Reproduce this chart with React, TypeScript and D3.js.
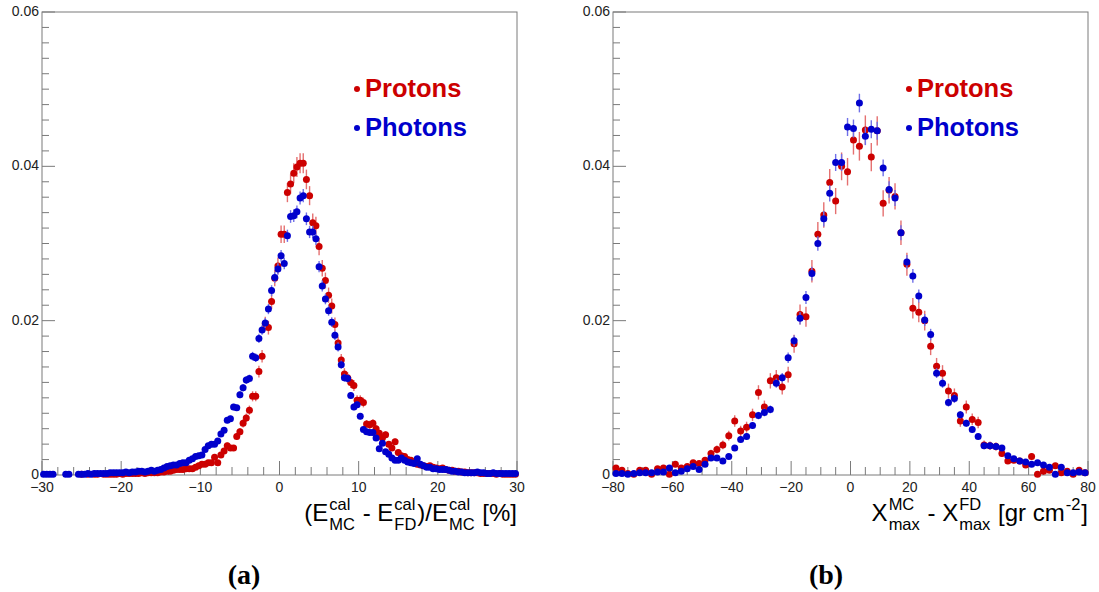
import React, { useEffect, useRef } from "react";
import * as d3 from "d3";

const W = 1099;
const H = 592;

// ---------- Panel (a): (E_MC - E_FD)/E_MC [%], 150 bins of 0.4 from -30 to 30 ----------
const binStartA = -29.8;
const binWidthA = 0.4;
const protonsA: (number | null)[] = [
  null, null, null, null, null, null, null, null, null, null,
  null, null, 0.0001, null, 0.0001, null, 0.0001, 0.0001, null, 0.0001,
  0.0001, 0.0001, 0.0001, 0.0001, 0.0002, 0.0001, 0.0002, 0.0002, 0.0002, 0.0002,
  0.0002, 0.0003, 0.0002, 0.0003, 0.0003, 0.0003, 0.0003, 0.0004, 0.0004, 0.0005,
  0.0005, 0.0006, 0.0007, 0.0007, 0.0007, 0.0008, 0.0008, 0.0008, 0.0010, 0.0012,
  0.0014, 0.0014, 0.0016, 0.0016, 0.0023, 0.0016, 0.0026, 0.0031, 0.0038, 0.0035,
  0.0035, 0.0050, 0.0056, 0.0067, 0.0074, 0.0084, 0.0102, 0.0102, 0.0134, 0.0154,
  0.0196, 0.0191, 0.0225, 0.0255, 0.0271, 0.0312, 0.0312, 0.0366, 0.0377, 0.0391,
  0.0399, 0.0404, 0.0404, 0.0383, 0.0362, 0.0327, 0.0323, 0.0296, 0.0268, 0.0252,
  0.0233, 0.0219, 0.0195, 0.0171, 0.0149, 0.0131, 0.0126, 0.0120, 0.0116, 0.0097,
  0.0097, 0.0094, 0.0066, 0.0065, 0.0067, 0.0060, 0.0054, 0.0048, 0.0052, 0.0040,
  0.0035, 0.0043, 0.0029, 0.0025, 0.0024, 0.0020, 0.0019, 0.0016, 0.0014, 0.0013,
  0.0012, 0.0011, 0.0012, 0.0010, 0.0009, 0.0008, 0.0009, 0.0007, 0.0006, 0.0006,
  0.0005, 0.0005, 0.0004, 0.0004, 0.0003, 0.0003, 0.0003, 0.0003, 0.0002, 0.0002,
  0.0002, 0.0002, 0.0002, 0.0001, 0.0002, 0.0001, 0.0001, 0.0001, 0.0001, 0.0001,
];
const photonsA: (number | null)[] = [
  0.0001, 0.0001, 0.0001, 0.0001, null, null, null, 0.0001, 0.0001, null,
  null, 0.0001, 0.0001, 0.0001, 0.0002, 0.0001, 0.0002, 0.0002, 0.0002, 0.0002,
  0.0002, 0.0003, 0.0003, 0.0003, 0.0003, 0.0003, 0.0004, 0.0003, 0.0004, 0.0004,
  0.0005, 0.0005, 0.0004, 0.0005, 0.0006, 0.0005, 0.0006, 0.0007, 0.0009, 0.0011,
  0.0012, 0.0013, 0.0013, 0.0015, 0.0016, 0.0016, 0.0019, 0.0021, 0.0024, 0.0025,
  0.0026, 0.0033, 0.0038, 0.0040, 0.0040, 0.0044, 0.0053, 0.0058, 0.0071, 0.0073,
  0.0088, 0.0087, 0.0104, 0.0113, 0.0123, 0.0125, 0.0154, 0.0152, 0.0177, 0.0188,
  0.0197, 0.0215, 0.0239, 0.0256, 0.0267, 0.0284, 0.0274, 0.0310, 0.0335, 0.0336,
  0.0341, 0.0359, 0.0362, 0.0332, 0.0315, 0.0315, 0.0306, 0.0270, 0.0245, 0.0228,
  0.0213, 0.0198, 0.0181, 0.0166, 0.0143, 0.0126, 0.0125, 0.0103, 0.0088, 0.0091,
  0.0076, 0.0059, 0.0056, 0.0055, 0.0055, 0.0048, 0.0034, 0.0041, 0.0030, 0.0027,
  0.0022, 0.0019, 0.0019, 0.0022, 0.0019, 0.0017, 0.0016, 0.0015, 0.0021, 0.0014,
  0.0012, 0.0010, 0.0010, 0.0008, 0.0008, 0.0007, 0.0007, 0.0007, 0.0006, 0.0005,
  0.0005, 0.0004, 0.0004, 0.0003, 0.0003, 0.0003, 0.0003, 0.0004, 0.0003, 0.0003,
  0.0002, 0.0002, 0.0003, 0.0002, 0.0002, 0.0002, 0.0002, 0.0002, 0.0002, 0.0002,
];

// ---------- Panel (b): Xmax_MC - Xmax_FD [g cm^-2], 80 bins of 2 from -80 to 80 ----------
const binStartB = -79;
const binWidthB = 2;
const protonsB: (number | null)[] = [
  0.0009, 0.0006, 0.0002, 0.0001, 0.0006, 0.0006, 0.0001, 0.0008, 0.0009, 0.0001,
  0.0014, 0.0009, 0.0011, 0.0016, 0.0015, 0.0019, 0.0028, 0.0033, 0.0039, 0.0051,
  0.0070, 0.0057, 0.0062, 0.0078, 0.0107, 0.0088, 0.0122, 0.0126, 0.0114, 0.0130,
  0.0170, 0.0208, 0.0205, 0.0264, 0.0312, 0.0337, 0.0379, 0.0355, 0.0400, 0.0393,
  0.0434, 0.0426, 0.0447, 0.0412, 0.0446, 0.0352, 0.0369, 0.0361, 0.0314, 0.0273,
  0.0216, 0.0211, 0.0200, 0.0167, 0.0141, 0.0132, 0.0109, 0.0103, 0.0070, 0.0088,
  0.0072, 0.0068, 0.0039, 0.0038, 0.0037, 0.0028, 0.0018, 0.0019, 0.0018, 0.0013,
  0.0024, 0.0001, 0.0005, 0.0006, 0.0012, 0.0003, 0.0005, 0.0001, 0.0006, 0.0003,
];
const photonsB: (number | null)[] = [
  0.0002, 0.0002, 0.0001, 0.0002, 0.0003, 0.0003, 0.0003, 0.0004, 0.0004, 0.0009,
  0.0003, 0.0005, 0.0008, 0.0011, 0.0007, 0.0014, 0.0022, 0.0022, 0.0018, 0.0024,
  0.0035, 0.0046, 0.0050, 0.0064, 0.0077, 0.0081, 0.0085, 0.0119, 0.0126, 0.0152,
  0.0174, 0.0203, 0.0230, 0.0261, 0.0300, 0.0332, 0.0365, 0.0405, 0.0405, 0.0451,
  0.0449, 0.0482, 0.0439, 0.0448, 0.0446, 0.0398, 0.0370, 0.0359, 0.0314, 0.0276,
  0.0258, 0.0232, 0.0201, 0.0182, 0.0132, 0.0119, 0.0094, 0.0099, 0.0078, 0.0067,
  0.0059, 0.0050, 0.0038, 0.0038, 0.0037, 0.0035, 0.0025, 0.0021, 0.0018, 0.0017,
  0.0014, 0.0016, 0.0013, 0.0010, 0.0001, 0.0010, 0.0003, 0.0003, 0.0004, 0.0003,
];

// statistical-error scale (sigma = k * sqrt(content)) per series
const errScaleProtonsA = 0.0065;
const errScalePhotonsA = 0.0045;
const errScaleProtonsB = 0.009;
const errScalePhotonsB = 0.0055;

const xTicksA = [-30, -20, -10, 0, 10, 20, 30];
const xTicksB = [-80, -60, -40, -20, 0, 20, 40, 60, 80];
const yTicks = [0, 0.02, 0.04, 0.06];
const yTickLabels = ["0", "0.02", "0.04", "0.06"];
const legendLabels = ["Protons", "Photons"];
const captions = ["(a)", "(b)"];

const RED = "#cc0000";
const BLUE = "#0000cc";
const RED_ERR = "#e57070";
const BLUE_ERR = "#7070e8";
const AXIS = "#7a7a7a";
const SANS = "'Liberation Sans', Arial, Helvetica, sans-serif";

type Piece = { text?: string; sup?: string; sub?: string };

function fmt(v: number) {
  return v < 0 ? "\u2212" + Math.abs(v) : String(v);
}

function drawTitle(svg: any, pieces: Piece[], rightX: number, baseline: number) {
  const g = svg.append("g");
  let cur = 0;
  const big = 24;
  const small = 16.5;
  for (const p of pieces) {
    if (p.text !== undefined) {
      const t = g
        .append("text")
        .attr("x", cur)
        .attr("y", 0)
        .attr("font-family", SANS)
        .attr("font-size", big)
        .attr("fill", "#000")
        .style("white-space", "pre")
        .text(p.text);
      cur += (t.node() as SVGTextElement).getComputedTextLength();
    } else {
      let w = 0;
      if (p.sup) {
        const t = g
          .append("text")
          .attr("x", cur + 1)
          .attr("y", -11)
          .attr("font-family", SANS)
          .attr("font-size", small)
          .attr("fill", "#000")
          .text(p.sup);
        w = Math.max(w, (t.node() as SVGTextElement).getComputedTextLength());
      }
      if (p.sub) {
        const t = g
          .append("text")
          .attr("x", cur + 1)
          .attr("y", 9)
          .attr("font-family", SANS)
          .attr("font-size", small)
          .attr("fill", "#000")
          .text(p.sub);
        w = Math.max(w, (t.node() as SVGTextElement).getComputedTextLength());
      }
      cur += w + 2;
    }
  }
  g.attr("transform", `translate(${rightX - cur},${baseline})`);
}

type PanelCfg = {
  left: number;
  right: number;
  xDomain: [number, number];
  xTicks: number[];
  xMinorStep: number;
  binStart: number;
  binWidth: number;
  series: { values: (number | null)[]; color: string; errColor: string; errScale: number }[];
  legendX: number;
  title: Piece[];
  caption: string;
  captionX: number;
};

const TOP = 12;
const BOTTOM = 475;

function drawPanel(svg: any, cfg: PanelCfg) {
  const x = d3.scaleLinear().domain(cfg.xDomain).range([cfg.left, cfg.right]);
  const y = d3.scaleLinear().domain([0, 0.06]).range([BOTTOM, TOP]);
  const g = svg.append("g");

  // frame
  g.append("rect")
    .attr("x", cfg.left)
    .attr("y", TOP)
    .attr("width", cfg.right - cfg.left)
    .attr("height", BOTTOM - TOP)
    .attr("fill", "none")
    .attr("stroke", AXIS)
    .attr("stroke-width", 1);

  // y ticks
  const yMinor = d3.range(0, 31).map((i) => i * 0.002);
  g.selectAll(".ytk")
    .data(yMinor)
    .enter()
    .append("line")
    .attr("x1", cfg.left)
    .attr("x2", (_d: number, i: number) => cfg.left + (i % 10 === 0 ? 13 : 7))
    .attr("y1", (d: number) => y(d))
    .attr("y2", (d: number) => y(d))
    .attr("stroke", AXIS)
    .attr("stroke-width", 1);
  g.selectAll(".ylab")
    .data(yTicks)
    .enter()
    .append("text")
    .attr("x", cfg.left - 3)
    .attr("y", (d: number) => y(d) + 4)
    .attr("text-anchor", "end")
    .attr("font-family", SANS)
    .attr("font-size", 14)
    .attr("fill", "#222")
    .text((_d: number, i: number) => yTickLabels[i]);

  // x ticks
  const nMinor = Math.round((cfg.xDomain[1] - cfg.xDomain[0]) / cfg.xMinorStep);
  const xMinor = d3.range(0, nMinor + 1).map((i) => cfg.xDomain[0] + i * cfg.xMinorStep);
  g.selectAll(".xtk")
    .data(xMinor)
    .enter()
    .append("line")
    .attr("x1", (d: number) => x(d))
    .attr("x2", (d: number) => x(d))
    .attr("y1", BOTTOM)
    .attr("y2", (d: number) =>
      BOTTOM - (cfg.xTicks.some((t) => Math.abs(t - d) < 1e-6) ? 14 : 8)
    )
    .attr("stroke", AXIS)
    .attr("stroke-width", 1);
  g.selectAll(".xlab")
    .data(cfg.xTicks)
    .enter()
    .append("text")
    .attr("x", (d: number) => x(d))
    .attr("y", 492)
    .attr("text-anchor", "middle")
    .attr("font-family", SANS)
    .attr("font-size", 14)
    .attr("fill", "#222")
    .text((d: number) => fmt(d));

  // series
  for (const s of cfg.series) {
    const pts = s.values
      .map((v, i) => ({ cx: cfg.binStart + i * cfg.binWidth, v }))
      .filter((p) => p.v !== null) as { cx: number; v: number }[];
    const sg = g.append("g");
    sg.selectAll("line")
      .data(pts)
      .enter()
      .append("line")
      .attr("x1", (d) => x(d.cx))
      .attr("x2", (d) => x(d.cx))
      .attr("y1", (d) => y(Math.max(0, d.v - s.errScale * Math.sqrt(d.v))))
      .attr("y2", (d) => y(d.v + s.errScale * Math.sqrt(d.v)))
      .attr("stroke", s.errColor)
      .attr("stroke-width", 1.4);
    sg.selectAll("circle")
      .data(pts)
      .enter()
      .append("circle")
      .attr("cx", (d) => x(d.cx))
      .attr("cy", (d) => y(d.v))
      .attr("r", 3.5)
      .attr("fill", s.color);
  }

  // legend
  const legColors = [RED, BLUE];
  const legY = [97, 136];
  legendLabels.forEach((lab, i) => {
    g.append("circle")
      .attr("cx", cfg.legendX)
      .attr("cy", legY[i] - 8)
      .attr("r", 3)
      .attr("fill", legColors[i]);
    g.append("text")
      .attr("x", cfg.legendX + 8)
      .attr("y", legY[i])
      .attr("font-family", SANS)
      .attr("font-weight", "bold")
      .attr("font-size", 25.5)
      .attr("fill", legColors[i])
      .text(lab);
  });

  drawTitle(svg, cfg.title, cfg.right, 521);

  svg
    .append("text")
    .attr("x", cfg.captionX)
    .attr("y", 584)
    .attr("text-anchor", "middle")
    .attr("font-family", "'Liberation Serif', 'DejaVu Serif', serif")
    .attr("font-weight", "bold")
    .attr("font-size", 28)
    .attr("fill", "#000")
    .text(cfg.caption);
}

export default function App() {
  const ref = useRef<SVGSVGElement | null>(null);
  useEffect(() => {
    const svg = d3.select(ref.current);
    svg.selectAll("*").remove();
    svg.append("rect").attr("width", W).attr("height", H).attr("fill", "#fff");

    drawPanel(svg, {
      left: 42,
      right: 517,
      xDomain: [-30, 30],
      xTicks: xTicksA,
      xMinorStep: 2,
      binStart: binStartA,
      binWidth: binWidthA,
      series: [
        { values: protonsA, color: RED, errColor: RED_ERR, errScale: errScaleProtonsA },
        { values: photonsA, color: BLUE, errColor: BLUE_ERR, errScale: errScalePhotonsA },
      ],
      legendX: 357,
      title: [
        { text: "(E" },
        { sup: "cal", sub: "MC" },
        { text: " - E" },
        { sup: "cal", sub: "FD" },
        { text: ")/E" },
        { sup: "cal", sub: "MC" },
        { text: " [%]" },
      ],
      caption: captions[0],
      captionX: 244,
    });

    drawPanel(svg, {
      left: 613,
      right: 1088,
      xDomain: [-80, 80],
      xTicks: xTicksB,
      xMinorStep: 5,
      binStart: binStartB,
      binWidth: binWidthB,
      series: [
        { values: protonsB, color: RED, errColor: RED_ERR, errScale: errScaleProtonsB },
        { values: photonsB, color: BLUE, errColor: BLUE_ERR, errScale: errScalePhotonsB },
      ],
      legendX: 909,
      title: [
        { text: "X" },
        { sup: "MC", sub: "max" },
        { text: " - X" },
        { sup: "FD", sub: "max" },
        { text: " [gr cm" },
        { sup: "-2" },
        { text: "]" },
      ],
      caption: captions[1],
      captionX: 826,
    });
  }, []);

  return (
    <svg
      ref={ref}
      width={W}
      height={H}
      style={{ position: "absolute", left: 0, top: 0, display: "block" }}
    />
  );
}
